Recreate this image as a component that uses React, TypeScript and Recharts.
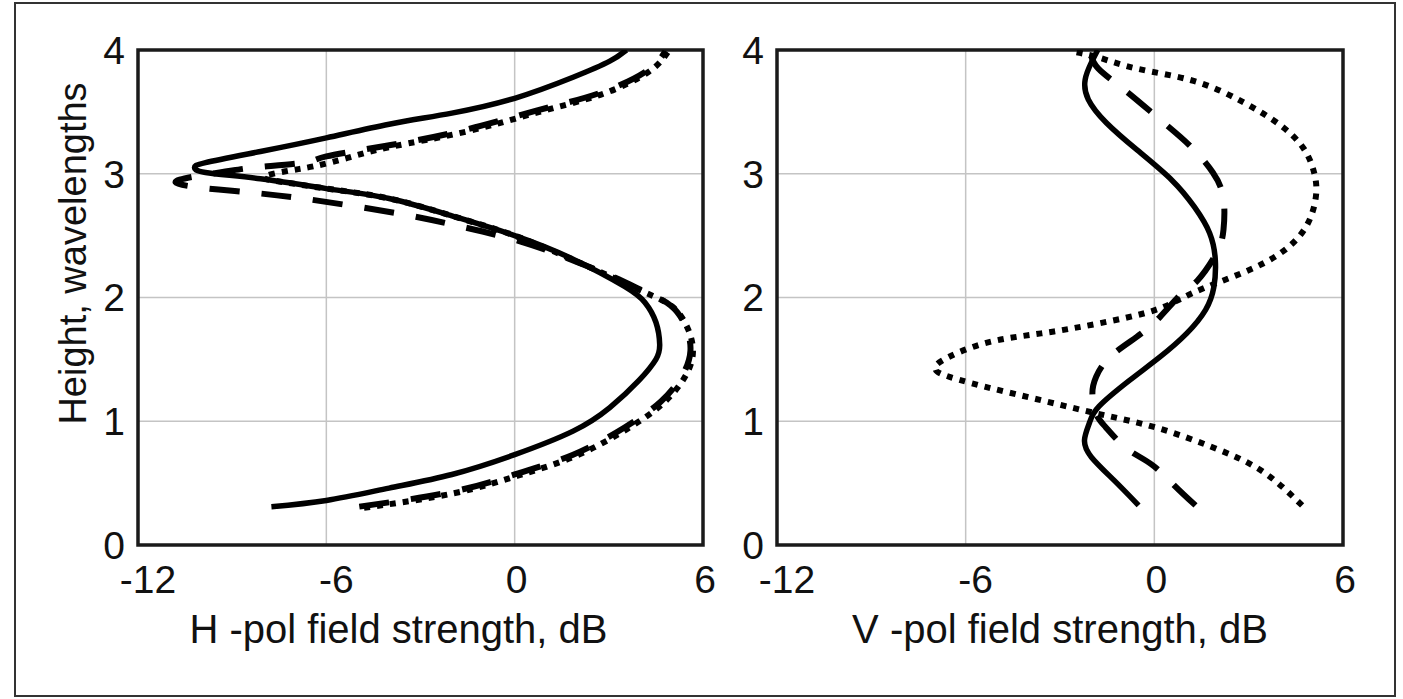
import { CartesianGrid, ReferenceArea, Scatter, ScatterChart, XAxis, YAxis } from "recharts"

const xTicks = [-12, -6, 0, 6]
const yTicks = [0, 1, 2, 3, 4]

// H-pol panel
const hSolid: [number, number][] = [
  [-7.75, 0.31], [-6.0, 0.36], [-4.0, 0.46], [-2.0, 0.57], [0.0, 0.73], [1.86, 0.92],
  [3.03, 1.11], [3.96, 1.33], [4.5, 1.5], [4.62, 1.62], [4.5, 1.8], [4.15, 1.96], [3.5, 2.09],
  [1.86, 2.31], [0.0, 2.5], [-2.0, 2.66], [-4.0, 2.8], [-6.0, 2.88], [-8.1, 2.96],
  [-9.85, 3.01], [-10.2, 3.05], [-9.85, 3.09], [-8.1, 3.18], [-6.0, 3.29], [-4.0, 3.4],
  [-2.0, 3.49], [0.0, 3.61], [1.86, 3.78], [3.03, 3.91], [3.56, 4.0],
]
const hDashed: [number, number][] = [
  [-4.95, 0.31], [-2.0, 0.43], [0.0, 0.57], [1.86, 0.73], [3.5, 0.95], [4.66, 1.16],
  [5.36, 1.38], [5.6, 1.57], [5.47, 1.75], [5.0, 1.93], [4.2, 2.04], [3.3, 2.15],
  [1.86, 2.3], [0.22, 2.45], [-1.65, 2.57], [-3.3, 2.66], [-5.17, 2.74], [-7.04, 2.81],
  [-8.92, 2.86], [-10.8, 2.93], [-9.4, 3.01], [-8.3, 3.05], [-6.7, 3.09], [-6.0, 3.14],
  [-4.0, 3.23], [-1.65, 3.35], [0.69, 3.51], [2.68, 3.65], [4.2, 3.83], [4.8, 3.99],
]
const hDotted: [number, number][] = [
  [-4.8, 0.3], [-1.9, 0.42], [0.1, 0.56], [1.95, 0.72], [3.6, 0.94], [4.75, 1.15],
  [5.45, 1.37], [5.68, 1.56], [5.53, 1.74], [5.05, 1.92], [4.25, 2.03], [3.4, 2.13],
  [1.9, 2.3], [0.0, 2.5], [-2.0, 2.66], [-4.0, 2.8], [-6.0, 2.88], [-7.3, 2.93],
  [-8.0, 2.97], [-7.3, 3.02], [-6.4, 3.06], [-5.3, 3.13], [-3.9, 3.22], [-1.55, 3.34],
  [0.79, 3.5], [2.75, 3.64], [4.25, 3.82], [4.9, 3.99],
]

// V-pol panel
const vSolid: [number, number][] = [
  [-0.5, 0.32], [-1.27, 0.52], [-2.0, 0.71], [-2.22, 0.85], [-2.06, 0.99], [-1.76, 1.12],
  [-0.79, 1.33], [0.18, 1.52], [1.03, 1.71], [1.63, 1.9], [1.89, 2.08], [1.94, 2.3],
  [1.76, 2.52], [1.28, 2.73], [0.55, 2.95], [-0.54, 3.19], [-1.52, 3.41], [-2.1, 3.6],
  [-2.2, 3.76], [-2.0, 3.9], [-1.8, 4.0],
]
const vDashed: [number, number][] = [
  [1.31, 0.32], [0.64, 0.48], [-0.08, 0.65], [-0.88, 0.78], [-1.54, 0.95], [-1.85, 1.06],
  [-1.97, 1.22], [-1.85, 1.36], [-1.41, 1.52], [-0.57, 1.68], [0.17, 1.84], [0.9, 2.04],
  [1.38, 2.14], [1.98, 2.36], [2.2, 2.55], [2.2, 2.8], [1.86, 3.01], [1.12, 3.23],
  [0.17, 3.44], [-0.91, 3.67], [-1.78, 3.85], [-2.02, 3.97],
]
const vDotted: [number, number][] = [
  [4.7, 0.32], [3.41, 0.6], [1.85, 0.79], [0.04, 0.95], [-1.78, 1.06], [-3.6, 1.17],
  [-5.4, 1.28], [-6.75, 1.38], [-6.95, 1.43], [-6.75, 1.49], [-5.4, 1.63], [-3.6, 1.71],
  [-1.78, 1.79], [0.04, 1.9], [1.25, 2.04], [2.81, 2.2], [4.02, 2.36], [4.82, 2.57],
  [5.14, 2.82], [5.08, 3.01], [4.76, 3.2], [4.02, 3.39], [2.81, 3.58], [1.25, 3.75],
  [-0.56, 3.85], [-1.78, 3.94], [-2.65, 3.99],
]

const toPoints = (arr: [number, number][]) => arr.map(([db, h]) => ({ db, h }))

const ink = "#111"
const font = 'Arial, "Liberation Sans", sans-serif'

type Series = { values: [number, number][]; dash?: string; width: number }

const lineSet = (solid: [number, number][], dashed: [number, number][], dotted: [number, number][]): Series[] => [
  { values: dotted, dash: "6 7", width: 6 },
  { values: dashed, dash: "30 22", width: 6 },
  { values: solid, width: 5.5 },
]

const XTick = (props: any) => {
  const { x, y, payload } = props
  const shift = payload.value < 0 ? 10 : 2
  return (
    <text x={x + shift} y={y} dy="0.71em" textAnchor="middle" fill={ink} fontSize={39} fontFamily={font}>
      {payload.value}
    </text>
  )
}

function FieldPanel(props: {
  width: number
  marginLeft: number
  marginRight: number
  yAxisWidth: number
  title: string
  titleDx: number
  yLabel?: string
  series: Series[]
}) {
  const { width, marginLeft, marginRight, yAxisWidth, title, titleDx, yLabel, series } = props
  return (
    <ScatterChart width={width} height={699} margin={{ top: 50, right: marginRight, bottom: 0, left: marginLeft }}>
      <CartesianGrid stroke="#c4c4c4" strokeWidth={1.5} />
      <XAxis
        type="number"
        dataKey="db"
        domain={[-12, 6]}
        ticks={xTicks}
        allowDataOverflow
        tickLine={false}
        axisLine={false}
        tickSize={0}
        tickMargin={20}
        height={154}
        tick={(p: any) => <XTick {...p} />}
        label={{ value: title, position: "insideBottom", offset: 56, dx: titleDx, fill: ink, fontSize: 40 }}
      />
      <YAxis
        type="number"
        dataKey="h"
        domain={[0, 4]}
        ticks={yTicks}
        allowDataOverflow
        tickLine={false}
        axisLine={false}
        tickSize={0}
        tickMargin={13}
        width={yAxisWidth}
        tick={{ fill: ink, fontSize: 39 }}
        label={
          yLabel
            ? { value: yLabel, angle: -90, position: "center", dy: -44, fill: ink, fontSize: 38 }
            : undefined
        }
      />
      <ReferenceArea x1={-12} x2={6} y1={0} y2={4} fill="none" fillOpacity={0} stroke="#1a1a1a" strokeWidth={3.5} />
      {series.map((s, i) => (
        <Scatter
          key={i}
          data={toPoints(s.values)}
          line={{ stroke: "#000", strokeWidth: s.width, strokeDasharray: s.dash }}
          lineType="joint"
          lineJointType="natural"
          shape={() => <g />}
          isAnimationActive={false}
        />
      ))}
    </ScatterChart>
  )
}

export default function App() {
  return (
    <div style={{ position: "absolute", left: 0, top: 0, width: 1403, height: 699, background: "#fff", fontFamily: font }}>
      <div
        style={{
          position: "absolute",
          left: 14,
          top: 2,
          width: 1382,
          height: 695,
          border: "2px solid #333",
          boxSizing: "border-box",
        }}
      />
      <div style={{ position: "absolute", left: 0, top: 0 }}>
        <FieldPanel
          width={730}
          marginLeft={7}
          marginRight={27}
          yAxisWidth={131}
          title="H -pol field strength, dB"
          titleDx={-22}
          yLabel="Height, wavelengths"
          series={lineSet(hSolid, hDashed, hDotted)}
        />
      </div>
      <div style={{ position: "absolute", left: 730, top: 0 }}>
        <FieldPanel
          width={673}
          marginLeft={0}
          marginRight={60}
          yAxisWidth={47}
          title="V -pol field strength, dB"
          titleDx={0}
          series={lineSet(vSolid, vDashed, vDotted)}
        />
      </div>
    </div>
  )
}
